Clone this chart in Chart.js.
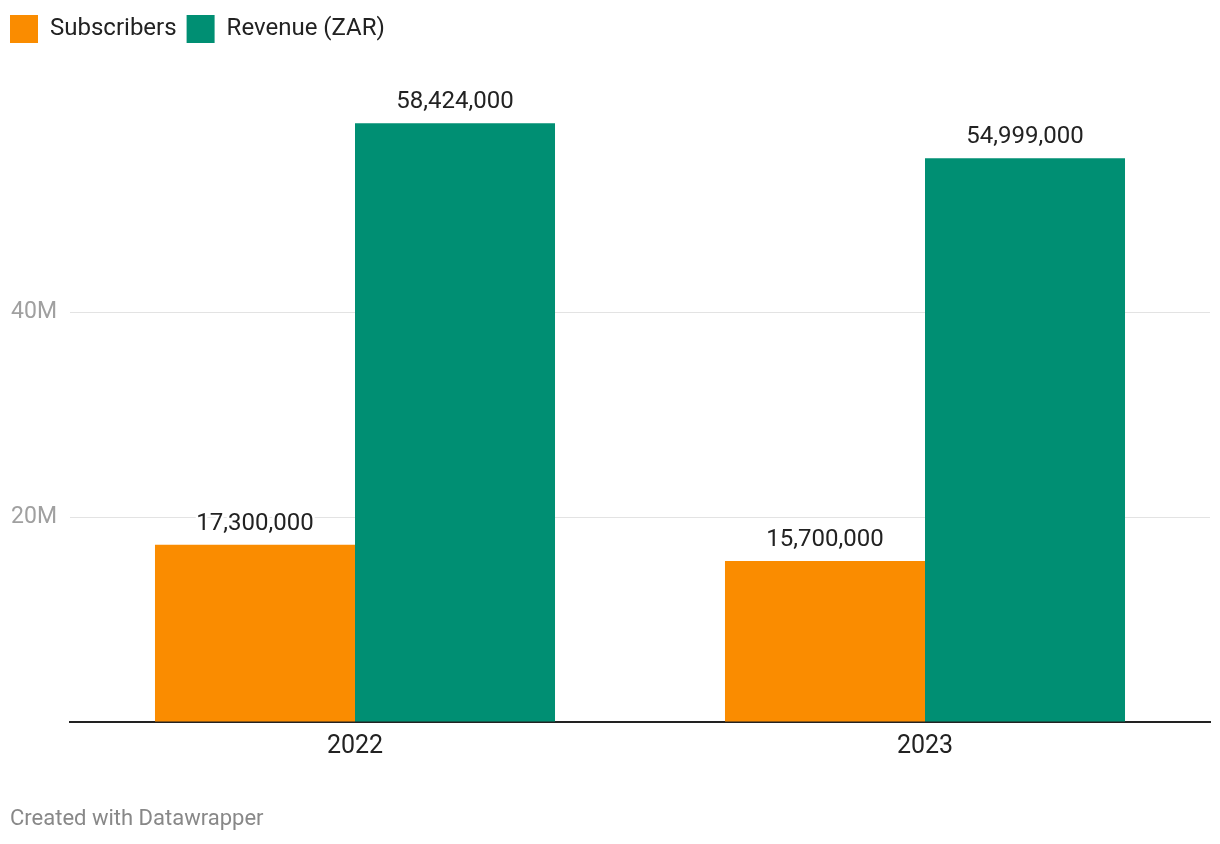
<!DOCTYPE html>
<html>
<head>
<meta charset="utf-8">
<script src="https://cdn.jsdelivr.net/npm/chart.js@4.4.1/dist/chart.umd.min.js"></script>
<style>
  html, body { margin: 0; padding: 0; background: #fff; }
  #wrap { position: relative; width: 1220px; height: 844px; }
  #footer {
    position: absolute; left: 10px; top: 805px;
    font-family: Roboto, sans-serif; font-size: 22px; color: #888;
  }
</style>
</head>
<body>
<div id="wrap">
  <canvas id="chart" width="1220" height="844"></canvas>
  <div id="footer">Created with Datawrapper</div>
</div>
<script>
var categories = ['2022', '2023'];
var subscribers = [17300000, 15700000];
var revenue = [58424000, 54999000];
var seriesNames = ['Subscribers', 'Revenue (ZAR)'];
var yTicks = [20000000, 40000000];

var ORANGE = '#fa8c00';
var TEAL = '#008f73';

// value labels above each bar
var barLabels = {
    id: 'barLabels',
    afterDatasetsDraw: function (chart) {
        var ctx = chart.ctx;
        ctx.save();
        ctx.font = '24px Roboto, sans-serif';
        ctx.textAlign = 'center';
        ctx.textBaseline = 'alphabetic';
        ctx.lineJoin = 'round';
        chart.data.datasets.forEach(function (ds, i) {
            chart.getDatasetMeta(i).data.forEach(function (bar, j) {
                var txt = ds.data[j].toLocaleString('en-US');
                ctx.lineWidth = 5;
                ctx.strokeStyle = '#fff';
                ctx.strokeText(txt, bar.x, bar.y - 15);
                ctx.fillStyle = '#222';
                ctx.fillText(txt, bar.x, bar.y - 15);
            });
        });
        ctx.restore();
    }
};

new Chart(document.getElementById('chart').getContext('2d'), {
    type: 'bar',
    data: {
        labels: categories,
        datasets: [{
            label: seriesNames[0],
            data: subscribers,
            backgroundColor: ORANGE
        }, {
            label: seriesNames[1],
            data: revenue,
            backgroundColor: TEAL
        }]
    },
    options: {
        responsive: false,
        animation: false,
        layout: {
            padding: { left: 0, right: 10, top: 5, bottom: 72 }
        },
        categoryPercentage: 0.7018,
        barPercentage: 1.0,
        plugins: {
            legend: {
                position: 'top',
                align: 'start',
                labels: {
                    boxWidth: 28,
                    boxHeight: 28,
                    padding: 10,
                    color: '#222',
                    font: { family: 'Roboto, sans-serif', size: 24 }
                }
            },
            // empty title used only as a spacer between legend and plot
            title: {
                display: true,
                text: '',
                weight: 100,
                font: { size: 1, lineHeight: 1 },
                padding: { top: 0, bottom: 53 }
            },
            tooltip: { enabled: false }
        },
        scales: {
            x: {
                grid: { display: true, color: 'rgba(0,0,0,0)', drawTicks: false },
                border: { display: true, color: '#222', width: 2 },
                ticks: {
                    color: '#222',
                    padding: 10,
                    font: { family: 'Roboto, sans-serif', size: 25 }
                }
            },
            y: {
                min: 0,
                max: 60000000,
                afterFit: function (scale) {
                    scale.width = 70;
                },
                afterBuildTicks: function (scale) {
                    scale.ticks = [0].concat(yTicks).concat([60000000]).map(function (v) {
                        return { value: v };
                    });
                },
                grid: {
                    drawTicks: false,
                    color: function (c) {
                        return yTicks.indexOf(c.tick && c.tick.value) >= 0 ? '#e3e3e3' : 'rgba(0,0,0,0)';
                    }
                },
                border: { display: false },
                ticks: {
                    padding: 13,
                    color: '#a0a0a0',
                    font: { family: 'Roboto, sans-serif', size: 23 },
                    callback: function (v) {
                        return yTicks.indexOf(v) >= 0 ? (v / 1000000) + 'M' : '';
                    }
                }
            }
        }
    },
    plugins: [barLabels]
});
</script>
</body>
</html>
